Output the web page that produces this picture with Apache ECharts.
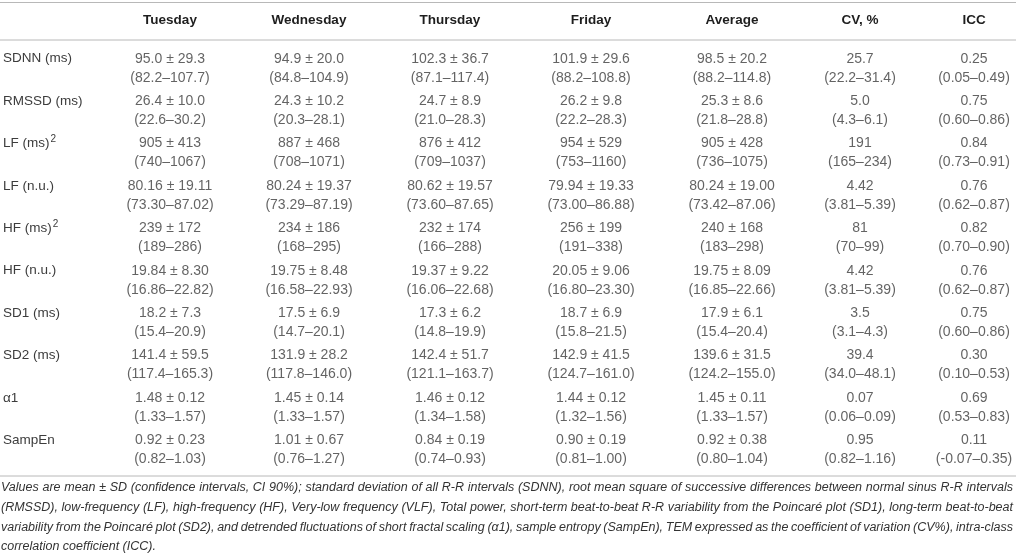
<!DOCTYPE html>
<html>
<head>
<meta charset="utf-8">
<script src="https://cdn.jsdelivr.net/npm/echarts@6/dist/echarts.min.js"></script>
<style>
  html, body { margin: 0; padding: 0; background: #fff; }
  #main { width: 1016px; height: 556px; }
</style>
</head>
<body>
<div id="main"></div>
<script>
// table content
var columns = ['Tuesday', 'Wednesday', 'Thursday', 'Friday', 'Average', 'CV, %', 'ICC'];
var rowLabels = ['SDNN (ms)', 'RMSSD (ms)', 'LF (ms)²', 'LF (n.u.)', 'HF (ms)²', 'HF (n.u.)', 'SD1 (ms)', 'SD2 (ms)', 'α1', 'SampEn'];

var tuesday   = ['95.0 ± 29.3', '26.4 ± 10.0', '905 ± 413', '80.16 ± 19.11', '239 ± 172', '19.84 ± 8.30', '18.2 ± 7.3', '141.4 ± 59.5', '1.48 ± 0.12', '0.92 ± 0.23'];
var tuesdayCI = ['82.2–107.7', '22.6–30.2', '740–1067', '73.30–87.02', '189–286', '16.86–22.82', '15.4–20.9', '117.4–165.3', '1.33–1.57', '0.82–1.03'];

var wednesday   = ['94.9 ± 20.0', '24.3 ± 10.2', '887 ± 468', '80.24 ± 19.37', '234 ± 186', '19.75 ± 8.48', '17.5 ± 6.9', '131.9 ± 28.2', '1.45 ± 0.14', '1.01 ± 0.67'];
var wednesdayCI = ['84.8–104.9', '20.3–28.1', '708–1071', '73.29–87.19', '168–295', '16.58–22.93', '14.7–20.1', '117.8–146.0', '1.33–1.57', '0.76–1.27'];

var thursday   = ['102.3 ± 36.7', '24.7 ± 8.9', '876 ± 412', '80.62 ± 19.57', '232 ± 174', '19.37 ± 9.22', '17.3 ± 6.2', '142.4 ± 51.7', '1.46 ± 0.12', '0.84 ± 0.19'];
var thursdayCI = ['87.1–117.4', '21.0–28.3', '709–1037', '73.60–87.65', '166–288', '16.06–22.68', '14.8–19.9', '121.1–163.7', '1.34–1.58', '0.74–0.93'];

var friday   = ['101.9 ± 29.6', '26.2 ± 9.8', '954 ± 529', '79.94 ± 19.33', '256 ± 199', '20.05 ± 9.06', '18.7 ± 6.9', '142.9 ± 41.5', '1.44 ± 0.12', '0.90 ± 0.19'];
var fridayCI = ['88.2–108.8', '22.2–28.3', '753–1160', '73.00–86.88', '191–338', '16.80–23.30', '15.8–21.5', '124.7–161.0', '1.32–1.56', '0.81–1.00'];

var average   = ['98.5 ± 20.2', '25.3 ± 8.6', '905 ± 428', '80.24 ± 19.00', '240 ± 168', '19.75 ± 8.09', '17.9 ± 6.1', '139.6 ± 31.5', '1.45 ± 0.11', '0.92 ± 0.38'];
var averageCI = ['88.2–114.8', '21.8–28.8', '736–1075', '73.42–87.06', '183–298', '16.85–22.66', '15.4–20.4', '124.2–155.0', '1.33–1.57', '0.80–1.04'];

var cv   = ['25.7', '5.0', '191', '4.42', '81', '4.42', '3.5', '39.4', '0.07', '0.95'];
var cvCI = ['22.2–31.4', '4.3–6.1', '165–234', '3.81–5.39', '70–99', '3.81–5.39', '3.1–4.3', '34.0–48.1', '0.06–0.09', '0.82–1.16'];

var icc   = ['0.25', '0.75', '0.84', '0.76', '0.82', '0.76', '0.75', '0.30', '0.69', '0.11'];
var iccCI = ['0.05–0.49', '0.60–0.86', '0.73–0.91', '0.62–0.87', '0.70–0.90', '0.62–0.87', '0.60–0.86', '0.10–0.53', '0.53–0.83', '-0.07–0.35'];

var footnote = [
  'Values are mean ± SD (confidence intervals, CI 90%); standard deviation of all R-R intervals (SDNN), root mean square of successive differences between normal sinus R-R intervals',
  '(RMSSD), low-frequency (LF), high-frequency (HF), Very-low frequency (VLF), Total power, short-term beat-to-beat R-R variability from the Poincaré plot (SD1), long-term beat-to-beat',
  'variability from the Poincaré plot (SD2), and detrended fluctuations of short fractal scaling (α1), sample entropy (SampEn), TEM expressed as the coefficient of variation (CV%), intra-class',
  'correlation coefficient (ICC).'
];

// layout
var colX = [170, 309, 450, 591, 732, 860, 974];
var FONT = '"Liberation Sans", Arial, Helvetica, sans-serif';
var W = 1016;

var colValues = [tuesday, wednesday, thursday, friday, average, cv, icc];
var colCI = [tuesdayCI, wednesdayCI, thursdayCI, fridayCI, averageCI, cvCI, iccCI];

var cells = [];
colValues.forEach(function (vals, j) {
  vals.forEach(function (v, i) {
    cells.push({ value: [colX[j], i], top: v, ci: colCI[j][i] });
  });
});

var chart = echarts.init(document.getElementById('main'));

chart.setOption({
  animation: false,
  backgroundColor: '#fff',
  grid: { left: 0, right: 0, top: 47, height: 424 },
  xAxis: { type: 'value', min: 0, max: W, show: false },
  yAxis: {
    type: 'category',
    inverse: true,
    data: rowLabels,
    axisLine: { show: false },
    axisTick: { show: false },
    splitLine: { show: false },
    axisLabel: {
      inside: true,
      margin: 3,
      interval: 0,
      formatter: function (s) {
        var t = s.indexOf('²') >= 0 ? '{n|' + s.replace('²', '') + '}{sup|2}' : '{n|' + s + '}';
        return t + '\n{n| }';
      },
      rich: {
        n: { fontFamily: FONT, fontSize: 13.5, lineHeight: 19, color: '#3c3c3c' },
        sup: { fontFamily: FONT, fontSize: 10, lineHeight: 19, verticalAlign: 'top', color: '#3c3c3c', padding: [0, 0, 0, 1] }
      }
    }
  },
  series: [{
    type: 'scatter',
    data: cells,
    symbolSize: 1,
    itemStyle: { color: 'transparent' },
    silent: true,
    label: {
      show: true,
      position: 'inside',
      formatter: function (p) {
        return '{v|' + p.data.top + '}\n{v|(' + p.data.ci + ')}';
      },
      rich: {
        v: { fontFamily: FONT, fontSize: 14, lineHeight: 19, color: '#3c3c3c', align: 'center' }
      }
    }
  }]
});

// rules, headers and justified footnote
var graphics = [];
[2.5, 40, 476].forEach(function (y) {
  graphics.push({ type: 'line', shape: { x1: 0, y1: y, x2: W, y2: y }, style: { stroke: '#b8b8b8', lineWidth: 1 }, silent: true });
});
columns.forEach(function (c, j) {
  graphics.push({
    type: 'text',
    x: chart.convertToPixel({ xAxisIndex: 0 }, colX[j]),
    y: 20.5,
    style: { text: c, font: 'bold 13.5px ' + FONT, fill: '#1e1e1e', align: 'center', verticalAlign: 'middle' },
    silent: true
  });
});

var noteFont = 'italic 12.5px ' + FONT;
var ctx = document.createElement('canvas').getContext('2d');
ctx.font = noteFont;
footnote.forEach(function (line, k) {
  var y = 488 + k * 19.6;
  var words = line.split(' ');
  var widths = words.map(function (w) { return ctx.measureText(w).width; });
  var total = widths.reduce(function (a, b) { return a + b; }, 0);
  var last = k === footnote.length - 1;
  var gap = last ? ctx.measureText(' ').width : (W - 4 - total) / (words.length - 1);
  var x = 1;
  words.forEach(function (w, i) {
    graphics.push({
      type: 'text', x: x, y: y,
      style: { text: w, font: noteFont, fill: '#333', align: 'left', verticalAlign: 'middle' },
      silent: true
    });
    x += widths[i] + gap;
  });
});

chart.setOption({ graphic: graphics });
</script>
</body>
</html>
